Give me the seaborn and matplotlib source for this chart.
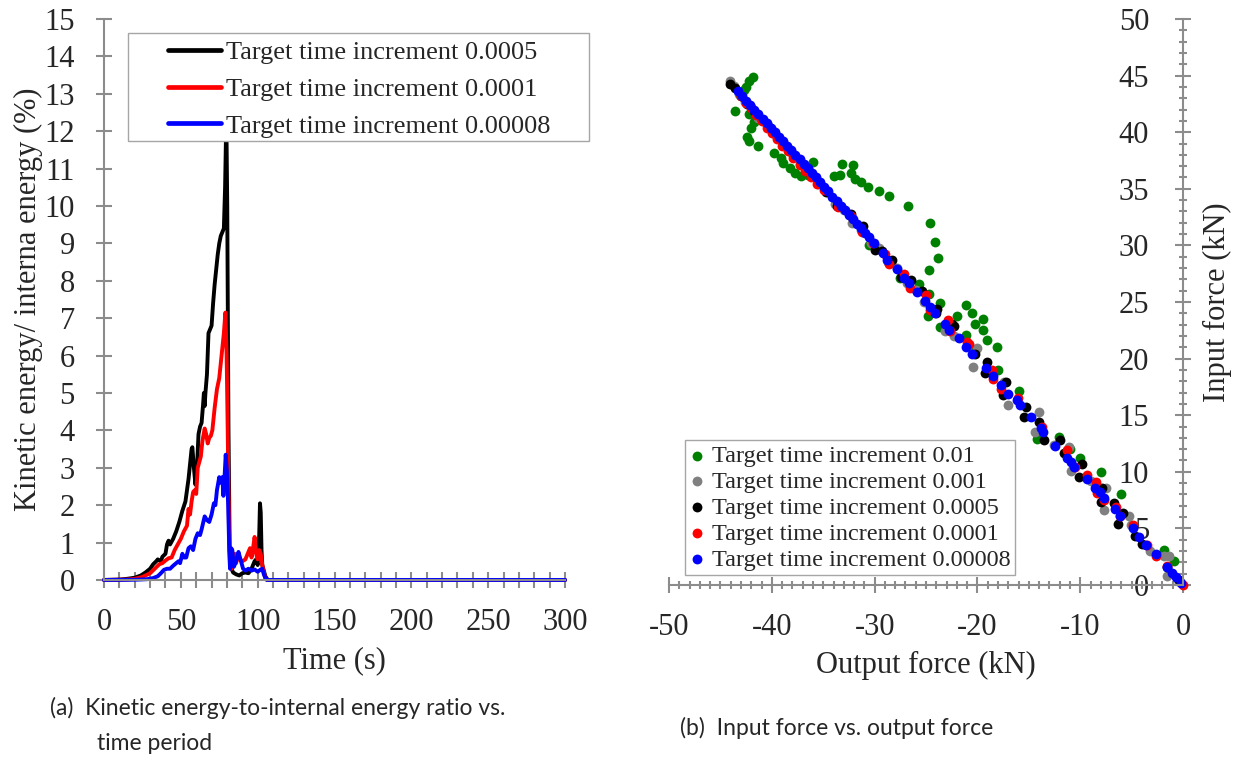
"""Kinetic energy ratio vs time, and input vs output force scatter."""
import matplotlib
matplotlib.use("Agg")
import matplotlib.pyplot as plt
import numpy as np
import pandas as pd
import seaborn as sns
from matplotlib.patches import Rectangle
from matplotlib.ticker import MultipleLocator

# ---- (a) kinetic / internal energy ratio (%) vs time (s) ----
t_0005 = [0, 10, 15, 20, 24, 27, 30, 32, 34, 35, 37, 38, 40, 41, 42, 43, 45, 47,
          49, 51, 53, 54, 55, 56, 57, 57.5, 58.5, 59.5, 60.5, 61.5, 62.5, 63.5,
          64.5, 65, 65.5, 66, 67, 68, 69, 70, 71, 72, 73, 74, 75, 76, 77, 78,
          78.8, 79.6, 80.2, 81, 81.8, 82.5, 84, 86, 88, 90, 92, 94, 96, 98, 99,
          100, 101, 101.5, 102, 102.5, 103, 104, 105, 106, 107, 110, 300]
ke_0005 = [0, 0.01, 0.03, 0.06, 0.12, 0.2, 0.3, 0.42, 0.5, 0.55, 0.5, 0.62, 0.7,
           0.95, 1.05, 0.95, 1.1, 1.3, 1.55, 1.85, 2.1, 2.4, 2.7, 3.1, 3.5, 3.55,
           3.0, 2.55, 3.0, 3.9, 4.1, 4.2, 4.7, 5.0, 4.65, 5.0, 5.5, 6.6, 6.7, 6.8,
           7.4, 7.9, 8.3, 8.7, 9.0, 9.2, 9.3, 9.4, 10.5, 12.4, 10.0, 4.0, 0.8,
           0.35, 0.2, 0.15, 0.12, 0.18, 0.2, 0.18, 0.3, 0.5, 0.55, 0.4, 1.2, 2.05,
           1.8, 0.8, 0.4, 0.25, 0.1, 0.03, 0, 0, 0]

t_0001 = [0, 15, 20, 25, 30, 33, 36, 38, 40, 42, 44, 46, 48, 50, 52, 54, 55, 56,
          57, 58, 59, 60, 61, 62, 63, 64, 65.5, 66.5, 67.5, 68.5, 69.5, 70.5, 72,
          73.5, 75, 76.5, 78, 79, 79.8, 80.5, 81.3, 82, 83, 84, 85, 86, 87, 88,
          90, 92, 94, 95, 96, 97, 98, 99, 100, 101, 102, 103, 104, 105, 106, 300]
ke_0001 = [0, 0.01, 0.03, 0.08, 0.18, 0.3, 0.42, 0.45, 0.52, 0.58, 0.6, 0.8, 0.95,
           1.1, 1.3, 1.45, 1.9, 1.75, 2.1, 2.35, 2.4, 2.3, 3.0, 3.15, 3.3, 3.7,
           4.05, 3.9, 3.65, 3.8, 3.85, 4.0, 4.6, 5.1, 5.4, 6.0, 6.6, 7.15, 6.0,
           4.0, 1.5, 0.4, 0.3, 0.55, 0.7, 0.45, 0.65, 0.55, 0.5, 0.55, 0.75, 0.85,
           0.6, 0.85, 1.15, 0.7, 0.55, 0.8, 0.7, 0.4, 0.2, 0.05, 0, 0]

t_00008 = [0, 20, 28, 32, 35, 37, 39, 41, 43, 45, 47, 48.5, 49.5, 51, 52, 53.5, 55,
           56.5, 58, 59.5, 61, 62.5, 63.5, 65.5, 67, 68.5, 70, 71.5, 72.5, 73.5,
           75, 76, 77, 77.7, 78.5, 79.2, 80, 80.8, 81.5, 82, 82.8, 83.5, 84.5,
           85.5, 86.5, 87.5, 88.5, 89.5, 90.5, 92, 94, 96, 98, 100, 102, 103, 104,
           105, 106, 300]
ke_00008 = [0, 0.005, 0.02, 0.05, 0.1, 0.18, 0.27, 0.3, 0.3, 0.38, 0.45, 0.5, 0.45,
            0.7, 0.6, 0.6, 0.85, 0.9, 0.8, 1.1, 1.25, 1.2, 1.35, 1.7, 1.6, 1.55,
            1.75, 2.05, 2.0, 2.4, 2.75, 2.6, 2.75, 2.25, 2.8, 3.35, 2.9, 2.0, 0.8,
            0.3, 0.85, 0.8, 0.35, 0.45, 0.6, 0.75, 0.6, 0.45, 0.3, 0.25, 0.3, 0.25,
            0.28, 0.22, 0.28, 0.3, 0.15, 0.05, 0, 0]

line_labels = ["Target time increment 0.0005", "Target time increment 0.0001",
               "Target time increment 0.00008"]
line_colors = ["#000000", "#ff0000", "#0000ff"]

# ---- (b) input force vs output force (kN) ----
out_001 = [-41.8, -42.2, -42.5, -42.7, -43.1, -43.6, -42.2, -41.7, -42.0, -42.4,
           -42.2, -41.3, -39.8, -39.1, -38.9, -38.2, -37.7, -37.2, -36.0, -34.0,
           -33.2, -33.4, -32.1, -32.3, -31.9, -31.3, -30.6, -29.6, -28.6, -26.8,
           -24.6, -24.1, -23.8, -24.7, -25.7, -24.7, -23.6, -24.8, -23.6, -21.1,
           -20.5, -19.5, -20.2, -19.5, -21.1, -19.1, -18.1, -20.2, -22.0, -18.0,
           -16.0, -14.2, -12.1, -11.0, -10.0, -8.0, -6.0, -1.9, -0.9, -1.2,
           -36.5, -30.5, -27.5, -22.8]
in_001 = [44.9, 44.5, 44.0, 43.7, 43.3, 41.9, 41.6, 40.9, 40.4, 39.6, 39.2, 38.8,
          38.2, 37.7, 37.3, 36.8, 36.4, 36.1, 37.4, 36.1, 37.2, 36.2, 37.1, 36.4,
          35.9, 35.6, 35.2, 34.8, 34.4, 33.5, 32.0, 30.3, 28.9, 27.8, 26.6, 25.7,
          24.9, 23.8, 22.8, 24.7, 24.0, 23.5, 23.1, 22.5, 22.1, 21.6, 21.0, 20.7,
          23.8, 19.0, 17.1, 12.9, 13.1, 12.0, 11.2, 10.0, 8.0, 3.1, 2.1, 1.1,
          36.2, 30.0, 27.1, 22.9]

out_0001s = [-44.1, -43.7, -43.2, -42.6, -42.0, -41.3, -40.6, -39.8, -39.0, -38.1,
             -37.3, -36.4, -35.5, -34.6, -33.9, -33.0, -32.2, -31.3, -30.4, -29.6,
             -28.7, -27.8, -26.9, -26.0, -25.2, -24.3, -23.2, -22.3, -20.4, -20.0,
             -17.0, -17.4, -14.0, -14.4, -11.1, -10.9, -7.7, -7.5, -5.3, -5.1,
             -1.9, -1.4, -1.6, -12.6, -9.0, -3.2, -0.5]
in_0001s = [44.5, 44.1, 43.4, 42.7, 42.2, 41.3, 40.8, 39.9, 39.1, 38.3, 37.2, 36.6,
            35.4, 34.7, 33.7, 33.1, 32.0, 31.4, 30.2, 29.8, 28.5, 28.0, 26.7, 26.1,
            25.0, 24.4, 22.4, 22.0, 19.3, 20.9, 15.9, 17.9, 15.3, 13.5, 12.2, 10.1,
            6.6, 8.6, 6.1, 5.3, 2.6, 2.6, 0.8, 12.4, 9.2, 3.0, 0.4]

out_0005 = [-44.1, -43.6, -43.0, -42.4, -41.7, -41.0, -40.3, -39.5, -38.7, -37.9,
            -37.1, -36.3, -35.5, -34.7, -33.7, -32.3, -31.1, -30.0, -28.3, -27.4,
            -25.4, -23.9, -22.3, -24.0, -22.5, -20.2, -19.1, -19.3, -17.5, -17.2,
            -15.3, -15.5, -14.0, -13.5, -12.0, -11.6, -9.8, -10.1, -8.0, -7.9,
            -6.7, -6.3, -5.8, -4.7, -4.0, -1.6, -0.35, -29.3, -26.5]
in_0005 = [44.25, 43.9, 43.2, 42.5, 41.9, 41.1, 40.5, 39.6, 38.8, 38.0, 37.2, 36.4,
           35.6, 34.7, 33.5, 32.8, 31.7, 29.6, 28.7, 27.2, 26.0, 24.4, 22.9, 24.0,
           23.1, 20.4, 19.7, 18.7, 16.8, 17.9, 15.7, 14.8, 14.4, 12.8, 12.8, 11.7,
           10.7, 9.5, 7.3, 8.6, 7.2, 5.4, 6.4, 4.3, 3.6, 1.6, 0.4, 29.5, 26.9]

out_0001 = [-43.0, -42.5, -42.0, -41.5, -41.0, -40.5, -40.0, -39.5, -39.0, -38.4,
            -37.9, -37.3, -36.8, -36.2, -35.6, -34.9, -32.3, -30.2, -29.0, -28.6,
            -27.1, -26.6, -25.0, -24.6, -22.9, -22.7, -20.8, -21.0, -18.6, -18.5,
            -17.7, -16.1, -13.7, -11.3, -10.5, -9.3, -8.5, -8.4, -7.7, -6.5, -6.1,
            -4.9, -3.5, -2.6, -1.6, 0.0, -33.6, -31.2]
in_0001 = [43.2, 42.6, 42.1, 41.5, 41.0, 40.4, 39.9, 39.4, 38.8, 38.3, 37.7, 37.1,
           36.6, 36.0, 35.4, 34.9, 32.6, 30.2, 29.2, 28.4, 27.5, 26.2, 25.6, 24.3,
           23.4, 22.4, 21.3, 21.5, 19.0, 18.2, 17.3, 16.5, 14.0, 11.9, 10.4, 9.7,
           9.1, 8.1, 7.5, 6.9, 6.1, 5.3, 3.5, 2.6, 1.7, 0.0, 33.4, 31.2]

out_00008 = [-43.3, -42.9, -42.5, -42.1, -41.7, -41.3, -40.9, -40.5, -40.1, -39.7,
             -39.3, -38.9, -38.5, -38.1, -37.7, -37.3, -36.9, -36.5, -36.1, -35.7,
             -35.3, -34.9, -34.5, -34.1, -33.7, -33.3, -32.9, -32.5, -32.1, -31.7,
             -31.3, -30.9, -30.5, -30.1, -29.2, -28.75, -27.8, -27.1, -26.7, -25.9,
             -25.1, -24.6, -24.1, -23.2, -22.8, -21.8, -21.1, -20.5, -19.2, -18.5,
             -17.7, -17.0, -16.2, -15.9, -14.8, -13.8, -13.6, -12.5, -11.3, -10.9,
             -10.6, -9.3, -8.6, -8.1, -7.7, -6.6, -6.1, -4.9, -4.3, -3.6, -2.6,
             -1.6, -1.1, -0.7, -0.2]
in_00008 = [43.6, 43.2, 42.8, 42.4, 42.0, 41.6, 41.2, 40.8, 40.4, 40.0, 39.6, 39.2,
            38.8, 38.4, 38.0, 37.6, 37.2, 36.8, 36.4, 36.0, 35.6, 35.2, 34.8, 34.3,
            33.9, 33.5, 33.1, 32.7, 32.3, 31.9, 31.5, 31.1, 30.7, 30.2, 29.3, 28.7,
            27.9, 27.1, 26.7, 25.9, 25.1, 24.6, 24.0, 23.1, 22.5, 21.8, 21.0, 20.4,
            19.2, 18.5, 17.7, 16.9, 16.3, 15.9, 14.8, 13.9, 13.5, 12.3, 11.2, 10.9,
            10.4, 9.4, 8.6, 8.2, 7.7, 6.7, 6.1, 5.0, 4.2, 3.5, 2.7, 1.6, 1.1, 0.7,
            0.2]

scatter_labels = ["Target time increment 0.01", "Target time increment 0.001",
                  "Target time increment 0.0005", "Target time increment 0.0001",
                  "Target time increment 0.00008"]
scatter_colors = ["#008000", "#808080", "#000000", "#ff0000", "#0000ff"]

# ---- figure ----
sns.set_style("white")
plt.rcParams["font.family"] = ["Liberation Serif", "DejaVu Serif"]
plt.rcParams["axes.unicode_minus"] = False

AXIS_GREY = "#8c8c8c"
fig = plt.figure(figsize=(12.41, 7.61), dpi=100)
ax1 = fig.add_axes([0.0838, 0.2379, 0.3715, 0.7371])
ax2 = fig.add_axes([0.5391, 0.2313, 0.4142, 0.7437])

# (a) lines
df_a = pd.concat([
    pd.DataFrame({"Time": t_0005, "Ratio": ke_0005, "Series": line_labels[0]}),
    pd.DataFrame({"Time": t_0001, "Ratio": ke_0001, "Series": line_labels[1]}),
    pd.DataFrame({"Time": t_00008, "Ratio": ke_00008, "Series": line_labels[2]}),
])
sns.lineplot(data=df_a, x="Time", y="Ratio", hue="Series", hue_order=line_labels,
             palette=line_colors, linewidth=2.8, sort=False, estimator=None,
             ax=ax1)
for ln in ax1.get_lines():
    ln.set_clip_on(False)
ax1.set_xlim(0, 300)
ax1.set_ylim(0, 15)
ax1.xaxis.set_major_locator(MultipleLocator(50))
ax1.xaxis.set_minor_locator(MultipleLocator(10))
ax1.yaxis.set_major_locator(MultipleLocator(1))
ax1.set_xlabel("Time (s)", fontsize=22, labelpad=6)
ax1.set_ylabel("Kinetic energy/ interna energy (%)", fontsize=22, labelpad=1)
ax1.tick_params(axis="both", which="both", direction="inout", color=AXIS_GREY,
                width=1.5, labelsize=22, bottom=True, left=True)
ax1.tick_params(axis="x", which="both", length=11, pad=15)
ax1.tick_params(axis="y", which="major", length=12, pad=15)
for side in ("top", "right"):
    ax1.spines[side].set_visible(False)
for side in ("left", "bottom"):
    ax1.spines[side].set_color(AXIS_GREY)
    ax1.spines[side].set_linewidth(1.5)

# legend box drawn separately (wider side padding than vertical)
ax1.add_patch(Rectangle((0.052, 0.7825), 1.0, 0.1925, transform=ax1.transAxes,
                        facecolor="white", edgecolor="#a6a6a6", linewidth=1.0,
                        clip_on=False, zorder=4))
leg1 = ax1.legend(loc="upper left", bbox_to_anchor=(0.139, 0.961), fontsize=19,
                  frameon=False, handlelength=2.0, handletextpad=0.2,
                  labelspacing=0.5, borderpad=0, borderaxespad=0)
leg1.set_zorder(5)
for h in leg1.get_lines():
    h.set_linewidth(3.4)

# (b) scatter
df_b = pd.concat([
    pd.DataFrame({"Out": out_001, "In": in_001, "Series": scatter_labels[0]}),
    pd.DataFrame({"Out": out_0001s, "In": in_0001s, "Series": scatter_labels[1]}),
    pd.DataFrame({"Out": out_0005, "In": in_0005, "Series": scatter_labels[2]}),
    pd.DataFrame({"Out": out_0001, "In": in_0001, "Series": scatter_labels[3]}),
    pd.DataFrame({"Out": out_00008, "In": in_00008, "Series": scatter_labels[4]}),
])
for lab, col in zip(scatter_labels, scatter_colors):
    sub = df_b[df_b["Series"] == lab]
    sns.scatterplot(data=sub, x="Out", y="In", color=col, s=50, linewidth=0,
                    label=lab, ax=ax2, clip_on=False)
ax2.set_xlim(-50, 0)
ax2.set_ylim(0, 50)
ax2.xaxis.set_major_locator(MultipleLocator(10))
ax2.xaxis.set_minor_locator(MultipleLocator(1))
ax2.yaxis.set_major_locator(MultipleLocator(5))
ax2.yaxis.set_minor_locator(MultipleLocator(1))
ax2.spines["left"].set_position(("data", 0))
for side in ("top", "right"):
    ax2.spines[side].set_visible(False)
for side in ("left", "bottom"):
    ax2.spines[side].set_color(AXIS_GREY)
    ax2.spines[side].set_linewidth(1.5)
ax2.tick_params(axis="both", which="both", direction="inout", color=AXIS_GREY,
                width=1.5, labelsize=22, bottom=True, left=True)
ax2.tick_params(axis="both", which="major", length=11)
ax2.tick_params(axis="x", which="major", pad=15)
ax2.tick_params(axis="y", which="major", pad=19)
ax2.tick_params(axis="both", which="minor", length=6)
ax2.set_xlabel("Output force (kN)", fontsize=22, labelpad=6)
ax2.yaxis.set_label_position("right")
ax2.set_ylabel("Input force (kN)", fontsize=22, labelpad=14)
leg2 = ax2.legend(loc="upper left", bbox_to_anchor=(0.031, 0.256), fontsize=17.5,
                  frameon=True, fancybox=False, edgecolor="#a6a6a6",
                  framealpha=1, handlelength=0.6, handletextpad=0.3,
                  labelspacing=0.16, borderpad=0.2, borderaxespad=0,
                  markerscale=1.0)
leg2.get_frame().set_linewidth(1.0)

# captions
cap_font = ["Lato", "DejaVu Sans"]
fig.text(50 / 1241, 1 - 708 / 761, "(a)  Kinetic energy-to-internal energy ratio vs.",
         fontsize=16.5, family=cap_font, va="center", ha="left")
fig.text(97 / 1241, 1 - 743 / 761, "time period",
         fontsize=16.5, family=cap_font, va="center", ha="left")
fig.text(680 / 1241, 1 - 728 / 761, "(b)  Input force vs. output force",
         fontsize=16.5, family=cap_font, va="center", ha="left")

fig.savefig("out.png", dpi=100)
plt.close(fig)
